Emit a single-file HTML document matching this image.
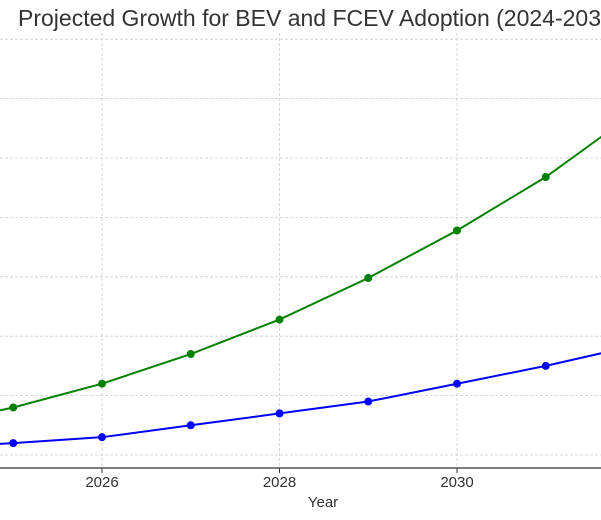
<!DOCTYPE html>
<html><head><meta charset="utf-8"><style>
body{margin:0;background:#fff;}
svg{display:block;font-family:"Liberation Sans",sans-serif;}
</style></head><body>
<svg id="chart" width="601" height="520" viewBox="0 0 601 520">
<text x="18" y="26" font-size="23" fill="#333">Projected Growth for BEV and FCEV Adoption (2024-2033)</text>
<g id="grid"></g><g id="axis"></g><g id="series"></g>
</svg>
<script>
const years=[2024,2025,2026,2027,2028,2029,2030,2031,2032,2033];
const bevValues=[2.4,4,6,8.5,11.4,14.9,18.9,23.4,28.8,35];
const fcevValues=[0.6,1,1.5,2.5,3.5,4.5,6,7.5,9.2,11];
const xTicks=[2026,2028,2030];
const yTicks=[0,5,10,15,20,25,30,35];
const X=v=>102+(v-2026)*88.75;
const Y=v=>455-v*59.4/5;
const NS="http://www.w3.org/2000/svg";
const svg=document.getElementById('chart');
function mk(tag,attrs,parent){const e=document.createElementNS(NS,tag);for(const k in attrs)e.setAttribute(k,attrs[k]);parent.appendChild(e);return e;}
const grid=document.getElementById('grid'),axis=document.getElementById('axis'),ser=document.getElementById('series');
yTicks.forEach(t=>{const l=mk('line',{x1:0,x2:601,y1:Y(t),y2:Y(t),stroke:'#ccc','stroke-dasharray':'3,2','stroke-width':0.8},grid);

});
xTicks.forEach(t=>{const l=mk('line',{x1:X(t),x2:X(t),y1:33,y2:468,stroke:'#ccc','stroke-dasharray':'3,2','stroke-width':0.8},grid);


const tk=mk('line',{x1:X(t),x2:X(t),y1:468,y2:473,stroke:'#333'},axis);


const tx=mk('text',{x:X(t),y:487,'text-anchor':'middle','font-size':15,fill:'#333'},axis);tx.textContent=t;

});
const ax=mk('line',{x1:0,x2:601,y1:468,y2:468,stroke:'#333','stroke-width':1.2},axis);


const xt=mk('text',{x:323,y:507,'text-anchor':'middle','font-size':15,fill:'#333'},axis);xt.textContent='Year';


function draw(vals,color,name){
const p=mk('polyline',{points:years.map((y,i)=>X(y)+','+Y(vals[i])).join(' '),fill:'none',stroke:color,'stroke-width':2},ser);


years.forEach((y,i)=>{const c=mk('circle',{cx:X(y),cy:Y(vals[i]),r:4,fill:color},ser);

});}
draw(bevValues,'#008000','bev');
draw(fcevValues,'#0000ff','fcev');
</script>
</body></html>
